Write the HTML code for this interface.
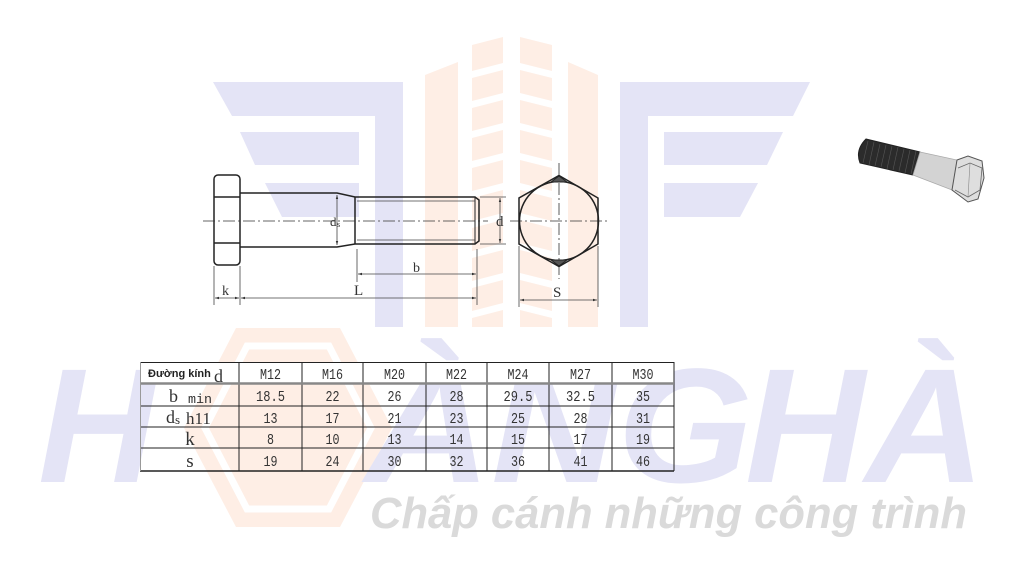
<!DOCTYPE html>
<html><head><meta charset="utf-8">
<style>html,body{margin:0;padding:0;background:#fff;width:1034px;height:576px;overflow:hidden}</style>
</head>
<body>
<svg width="1034" height="576" viewBox="0 0 1034 576" xmlns="http://www.w3.org/2000/svg">
<defs>
<marker id="a" viewBox="0 0 10 10" refX="10" refY="5" markerWidth="5" markerHeight="5" orient="auto-start-reverse"><path d="M0,2 L10,5 L0,8 z" fill="#333"/></marker>
</defs>
<rect width="1034" height="576" fill="#fff"/>

<!-- watermark: blue E / F -->
<g fill="#e4e4f6">
<polygon points="213,82 403,82 403,116 232,116"/>
<rect x="375" y="82" width="28" height="245"/>
<polygon points="240,132 359,132 359,165 255,165"/>
<polygon points="265,183 359,183 359,217 282,217"/>
<rect x="620" y="82" width="28" height="245"/>
<polygon points="620,82 810,82 793,116 620,116"/>
<polygon points="664,132 783,132 767,165 664,165"/>
<polygon points="664,183 758,183 740,217 664,217"/>
</g>
<!-- watermark: orange columns -->
<g fill="#feeee5">
<polygon points="425,75 458,62 458,327 425,327"/>
<polygon points="472,45 503,37 503,327 472,327"/>
<polygon points="520,37 552,45 552,327 520,327"/>
<polygon points="568,62 598,75 598,327 568,327"/>
</g>
<g fill="#fff">
<polygon points="472,71 503,63 503,70 472,78"/><polygon points="520,63 552,71 552,78 520,70"/>
<polygon points="472,101 503,93 503,100 472,108"/><polygon points="520,93 552,101 552,108 520,100"/>
<polygon points="472,131 503,123 503,130 472,138"/><polygon points="520,123 552,131 552,138 520,130"/>
<polygon points="472,161 503,153 503,160 472,168"/><polygon points="520,153 552,161 552,168 520,160"/>
<polygon points="472,191 503,183 503,190 472,198"/><polygon points="520,183 552,191 552,198 520,190"/>
<polygon points="472,221 503,213 503,220 472,228"/><polygon points="520,213 552,221 552,228 520,220"/>
<polygon points="472,251 503,243 503,250 472,258"/><polygon points="520,243 552,251 552,258 520,250"/>
<polygon points="472,281 503,273 503,280 472,288"/><polygon points="520,273 552,281 552,288 520,280"/>
<polygon points="472,311 503,303 503,310 472,318"/><polygon points="520,303 552,311 552,318 520,310"/>
</g>

<!-- watermark: orange hex "O" -->
<polygon points="236,328 340,328 392,428 340,527 236,527 184,428" fill="#feeee5"/>
<polygon points="247,346 329,346 371,428 329,509 247,509 205,428" fill="none" stroke="#fff" stroke-width="7"/>

<!-- watermark: big letters -->
<g font-family="Liberation Sans, sans-serif" font-weight="bold" font-style="italic" font-size="163" fill="#e4e4f6">
<text x="38" y="482">H</text>
<text x="365" y="482" textLength="388" lengthAdjust="spacingAndGlyphs">ÀNG</text>
<text x="745" y="482" textLength="240" lengthAdjust="spacingAndGlyphs">HÀ</text>
</g>
<text x="370" y="528" font-family="Liberation Sans, sans-serif" font-weight="bold" font-style="italic" font-size="44" fill="#dadada" textLength="597" lengthAdjust="spacingAndGlyphs">Chấp cánh những công trình</text>

<!-- bolt drawing -->
<g stroke="#222" fill="none" stroke-width="1.5">
<rect x="214" y="175" width="26" height="90" rx="4"/>
<line x1="214" y1="197" x2="240" y2="197"/>
<line x1="214" y1="243" x2="240" y2="243"/>
<path d="M240,193 L337,193 L355,197 L475,197 L479,200 L479,241 L475,244 L355,244 L337,247 L240,247"/>
<line x1="355" y1="197" x2="355" y2="244"/>
<line x1="475" y1="197" x2="475" y2="244" stroke-width="1"/>
</g>
<g stroke="#444" stroke-width="0.8" fill="none">
<line x1="357" y1="201" x2="475" y2="201"/>
<line x1="357" y1="240" x2="475" y2="240"/>
</g>
<!-- centre lines -->
<g stroke="#333" stroke-width="0.8" stroke-dasharray="12,3,2,3" fill="none">
<line x1="203" y1="221" x2="488" y2="221"/>
<line x1="510" y1="221" x2="609" y2="221"/>
<line x1="559" y1="163" x2="559" y2="279"/>
</g>
<!-- hex view -->
<g stroke="#222" stroke-width="1.5" fill="none">
<polygon points="559,175.5 598,198 598,244 559,266.5 519,244 519,198"/>
<circle cx="559" cy="221" r="39.5"/>
</g>
<polygon points="551,182 559,176 567,182" fill="#555" stroke="#222" stroke-width="1"/>
<polygon points="551,260 559,266 567,260" fill="#555" stroke="#222" stroke-width="1"/>

<!-- dimension lines -->
<g stroke="#444" stroke-width="0.8" fill="none">
<line x1="480" y1="197" x2="506" y2="197"/>
<line x1="480" y1="244" x2="506" y2="244"/>
<line x1="357" y1="249" x2="357" y2="282"/>
<line x1="477" y1="249" x2="477" y2="305"/>
<line x1="214" y1="266" x2="214" y2="305"/>
<line x1="240" y1="266" x2="240" y2="305"/>
<line x1="519" y1="246" x2="519" y2="307"/>
<line x1="598" y1="246" x2="598" y2="307"/>
<line x1="337" y1="195" x2="337" y2="245" marker-start="url(#a)" marker-end="url(#a)"/>
<line x1="500" y1="198" x2="500" y2="243" marker-start="url(#a)" marker-end="url(#a)"/>
<line x1="358" y1="274" x2="476" y2="274" marker-start="url(#a)" marker-end="url(#a)"/>
<line x1="241" y1="298" x2="476" y2="298" marker-start="url(#a)" marker-end="url(#a)"/>
<line x1="215" y1="298" x2="239" y2="298" marker-start="url(#a)" marker-end="url(#a)"/>
<line x1="520" y1="300" x2="597" y2="300" marker-start="url(#a)" marker-end="url(#a)"/>
</g>
<g font-family="Liberation Serif, serif" fill="#333">
<text x="330" y="226" font-size="13">d</text><text x="337" y="227" font-size="8">s</text>
<text x="496" y="226" font-size="15">d</text>
<text x="413" y="272" font-size="14">b</text>
<text x="354" y="295" font-size="15">L</text>
<text x="222" y="295" font-size="14">k</text>
<text x="553" y="297" font-size="15">S</text>
</g>

<!-- bolt photo -->
<path d="M866,139 L920,152 L913,175 L860,163 Q855,150 866,139 z" fill="#2b2b2b" stroke="#222" stroke-width="1"/>
<g stroke="#555" stroke-width="0.6">
<line x1="868" y1="141" x2="863" y2="163"/><line x1="874" y1="142" x2="869" y2="165"/><line x1="880" y1="144" x2="875" y2="166"/>
<line x1="886" y1="145" x2="881" y2="167"/><line x1="892" y1="146" x2="887" y2="169"/><line x1="898" y1="147" x2="893" y2="170"/>
<line x1="904" y1="149" x2="899" y2="171"/><line x1="910" y1="150" x2="905" y2="173"/><line x1="916" y1="151" x2="911" y2="174"/>
</g>
<polygon points="920,152 957,160 952,190 913,175" fill="#d3d3d3" stroke="#aaa" stroke-width="0.8"/>
<polygon points="957,160 968,156 982,161 984,178 978,199 968,202 952,190" fill="#dedede" stroke="#555" stroke-width="1"/>
<polyline points="958,168 970,163 982,168 980,190 968,197 955,190" fill="none" stroke="#666" stroke-width="0.8"/>
<line x1="970" y1="163" x2="968" y2="197" stroke="#888" stroke-width="0.6"/>

<!-- table -->
<rect x="140" y="362" width="534" height="21" fill="#fff"/>
<g stroke="#222" stroke-width="1" fill="none">
<line x1="140" y1="362.5" x2="674" y2="362.5"/>
<line x1="140" y1="406" x2="674" y2="406"/>
<line x1="140" y1="427" x2="674" y2="427"/>
<line x1="140" y1="448" x2="674" y2="448"/>
<line x1="140" y1="471" x2="674" y2="471" stroke-width="1.5"/>
<line x1="239" y1="362" x2="239" y2="471"/>
<line x1="302" y1="362" x2="302" y2="471"/>
<line x1="363" y1="362" x2="363" y2="471"/>
<line x1="426" y1="362" x2="426" y2="471"/>
<line x1="487" y1="362" x2="487" y2="471"/>
<line x1="549" y1="362" x2="549" y2="471"/>
<line x1="612" y1="362" x2="612" y2="471"/>
<line x1="674" y1="362" x2="674" y2="471"/>
</g>
<line x1="140" y1="383.5" x2="674" y2="383.5" stroke="#888" stroke-width="2.5"/>
<line x1="140.5" y1="362" x2="140.5" y2="471" stroke="#999" stroke-width="1"/>

<text x="148" y="377" font-family="Liberation Sans, sans-serif" font-weight="bold" font-size="11" fill="#222">Đường kính</text>
<text x="214" y="382" font-family="Liberation Serif, serif" font-size="18" fill="#333">d</text>

<g font-family="Liberation Mono, monospace" font-size="15" fill="#333" text-anchor="middle">
<text x="270.5" y="379" textLength="21" lengthAdjust="spacingAndGlyphs">M12</text>
<text x="332.5" y="379" textLength="21" lengthAdjust="spacingAndGlyphs">M16</text>
<text x="394.5" y="379" textLength="21" lengthAdjust="spacingAndGlyphs">M20</text>
<text x="456.5" y="379" textLength="21" lengthAdjust="spacingAndGlyphs">M22</text>
<text x="518" y="379" textLength="21" lengthAdjust="spacingAndGlyphs">M24</text>
<text x="580.5" y="379" textLength="21" lengthAdjust="spacingAndGlyphs">M27</text>
<text x="643" y="379" textLength="21" lengthAdjust="spacingAndGlyphs">M30</text>

<text x="270.5" y="401" textLength="29" lengthAdjust="spacingAndGlyphs">18.5</text>
<text x="332.5" y="401" textLength="14" lengthAdjust="spacingAndGlyphs">22</text>
<text x="394.5" y="401" textLength="14" lengthAdjust="spacingAndGlyphs">26</text>
<text x="456.5" y="401" textLength="14" lengthAdjust="spacingAndGlyphs">28</text>
<text x="518" y="401" textLength="29" lengthAdjust="spacingAndGlyphs">29.5</text>
<text x="580.5" y="401" textLength="29" lengthAdjust="spacingAndGlyphs">32.5</text>
<text x="643" y="401" textLength="14" lengthAdjust="spacingAndGlyphs">35</text>

<text x="270.5" y="423" textLength="14" lengthAdjust="spacingAndGlyphs">13</text>
<text x="332.5" y="423" textLength="14" lengthAdjust="spacingAndGlyphs">17</text>
<text x="394.5" y="423" textLength="14" lengthAdjust="spacingAndGlyphs">21</text>
<text x="456.5" y="423" textLength="14" lengthAdjust="spacingAndGlyphs">23</text>
<text x="518" y="423" textLength="14" lengthAdjust="spacingAndGlyphs">25</text>
<text x="580.5" y="423" textLength="14" lengthAdjust="spacingAndGlyphs">28</text>
<text x="643" y="423" textLength="14" lengthAdjust="spacingAndGlyphs">31</text>

<text x="270.5" y="444" textLength="7" lengthAdjust="spacingAndGlyphs">8</text>
<text x="332.5" y="444" textLength="14" lengthAdjust="spacingAndGlyphs">10</text>
<text x="394.5" y="444" textLength="14" lengthAdjust="spacingAndGlyphs">13</text>
<text x="456.5" y="444" textLength="14" lengthAdjust="spacingAndGlyphs">14</text>
<text x="518" y="444" textLength="14" lengthAdjust="spacingAndGlyphs">15</text>
<text x="580.5" y="444" textLength="14" lengthAdjust="spacingAndGlyphs">17</text>
<text x="643" y="444" textLength="14" lengthAdjust="spacingAndGlyphs">19</text>

<text x="270.5" y="466" textLength="14" lengthAdjust="spacingAndGlyphs">19</text>
<text x="332.5" y="466" textLength="14" lengthAdjust="spacingAndGlyphs">24</text>
<text x="394.5" y="466" textLength="14" lengthAdjust="spacingAndGlyphs">30</text>
<text x="456.5" y="466" textLength="14" lengthAdjust="spacingAndGlyphs">32</text>
<text x="518" y="466" textLength="14" lengthAdjust="spacingAndGlyphs">36</text>
<text x="580.5" y="466" textLength="14" lengthAdjust="spacingAndGlyphs">41</text>
<text x="643" y="466" textLength="14" lengthAdjust="spacingAndGlyphs">46</text>
</g>

<g font-family="Liberation Serif, serif" fill="#333">
<text x="169" y="402" font-size="18">b</text>
<text x="188" y="403" font-family="Liberation Mono, monospace" font-size="13" textLength="24" lengthAdjust="spacingAndGlyphs">min</text>
<text x="166" y="423" font-size="18">d</text><text x="175" y="424" font-size="13">s</text>
<text x="186" y="424" font-size="17">h11</text>
<text x="190" y="445" font-size="19" text-anchor="middle">k</text>
<text x="190" y="467" font-size="19" text-anchor="middle">s</text>
</g>
</svg>
</body></html>
